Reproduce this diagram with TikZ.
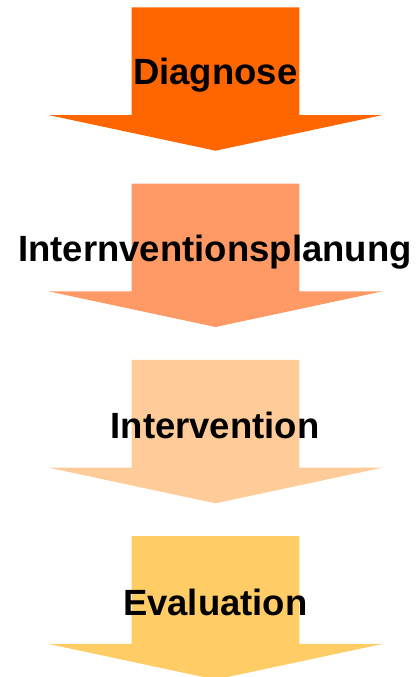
\documentclass[tikz,border=0pt]{standalone}
\usepackage{fontspec}
\setmainfont{Liberation Sans}
\usepackage{tikz}
\usetikzlibrary{calc}
\definecolor{diagC}{HTML}{FF6600}
\definecolor{planC}{HTML}{FF9966}
\definecolor{intervC}{HTML}{FFCC99}
\definecolor{evalC}{HTML}{FFCC66}
\tikzstyle{phasearrow} = [draw=none]
\tikzstyle{phaselabel} = [anchor=base, inner sep=0pt, font=\fontsize{36.5}{40}\selectfont\bfseries, text=black]

\begin{document}
\begin{tikzpicture}[x=1pt,y=-1pt]
%----------------------------------------------------------------------------
% Page size
\useasboundingbox (0,0) rectangle (418,677);

%----------------------------------------------------------------------------
% Block arrows, one per phase
\foreach \i/\col in {0/diagC, 1/planC, 2/intervC, 3/evalC}{
	\pgfmathsetmacro\top{7.3+176.3*\i}
	\fill [phasearrow, fill=\col] (131.7,\top) -- (299.3,\top) -- (299.3,\top+107.7) -- (382.7,\top+107.7)
		-- (215.5,\top+143.4) -- (48.3,\top+107.7) -- (131.7,\top+107.7) -- cycle;
}

%----------------------------------------------------------------------------
% Labels
\node (diagnose) [phaselabel] at (215.3,84.3) {Diagnose};
\node (planung) [phaselabel] at (215.0,261.3) {Internventionsplanung};
\node (intervention) [phaselabel] at (215.0,438.3) {Intervention};
\node (evaluation) [phaselabel] at (215.3,615.8) {Evaluation};
\end{tikzpicture}
\end{document}
